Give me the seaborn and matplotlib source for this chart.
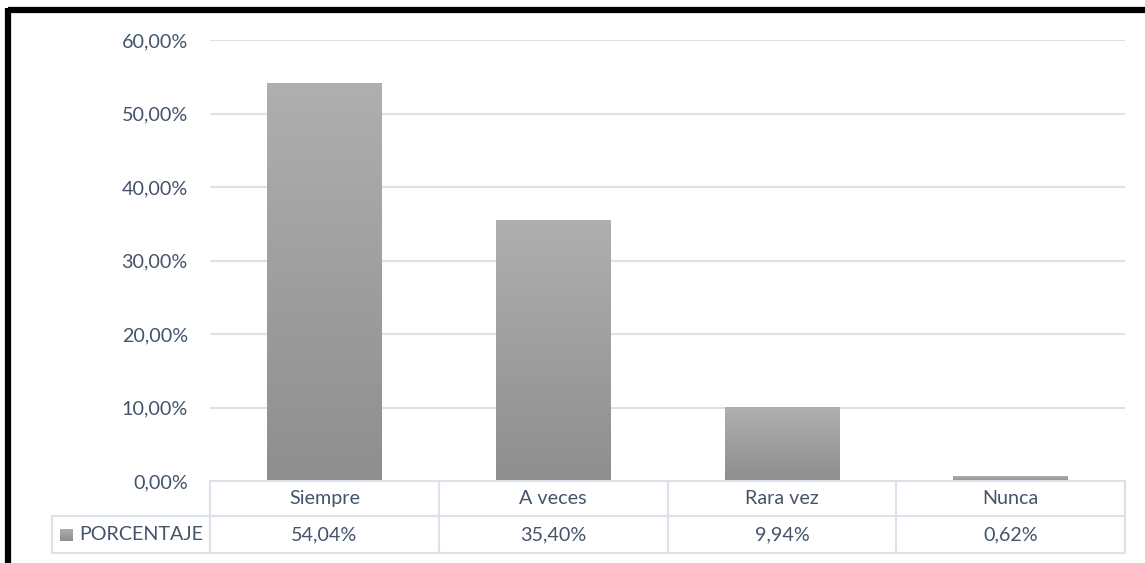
import numpy as np
import matplotlib
matplotlib.use("Agg")
import matplotlib.pyplot as plt
import seaborn as sns
from matplotlib.lines import Line2D

categories = ["Siempre", "A veces", "Rara vez", "Nunca"]
values = [0.5404, 0.3540, 0.0994, 0.0062]
series_name = "PORCENTAJE"
y_ticks = [0.0, 0.1, 0.2, 0.3, 0.4, 0.5, 0.6]


def pct(v):
    return f"{v * 100:.2f}%".replace(".", ",")


sns.set_theme(style="white")
plt.rcParams["font.family"] = ["Lato", "DejaVu Sans"]

TEXT = "#44546A"
GRID = "#DDE2EA"
FS = 14.2

W, H = 1145, 563
fig = plt.figure(figsize=(W / 100, H / 100), dpi=100)
fig.patch.set_facecolor("white")


def fx(px):
    return px / W


def fy(py):
    return 1 - py / H


left, right, top, bottom = 210, 1125, 40, 481
ax = fig.add_axes([fx(left), fy(bottom), fx(right) - fx(left), fy(top) - fy(bottom)])

sns.barplot(x=categories, y=values, color="#A0A0A0", width=0.5, ax=ax,
            saturation=1, zorder=3)

# vertical grey gradient in each bar
grad = np.linspace(0, 1, 256).reshape(-1, 1)
cmap = matplotlib.colors.LinearSegmentedColormap.from_list("bar", ["#8E8E8E", "#AFAFAF"])
for p in ax.patches:
    x0, y0 = p.get_x(), p.get_y()
    w, h = p.get_width(), p.get_height()
    p.set_facecolor("none")
    p.set_edgecolor("none")
    ax.imshow(grad, cmap=cmap, extent=[x0, x0 + w, y0, y0 + h],
              origin="lower", aspect="auto", zorder=3, interpolation="bilinear")
ax.set_xlim(-0.5, len(categories) - 0.5)
ax.set_ylim(0, 0.6)

ax.set_yticks(y_ticks)
ax.set_yticklabels([pct(v) for v in y_ticks], color=TEXT, fontsize=FS)
ax.tick_params(axis="y", length=0, pad=16)
ax.set_xticks([])
ax.set_xlabel("")
ax.set_ylabel("")
for s in ax.spines.values():
    s.set_visible(False)
for t in y_ticks[1:]:
    ax.axhline(t, color=GRID, lw=1.5, zorder=1)

# data table beneath the plot
row1, row2, row3 = 481, 516, 553
col_w = (right - left) / len(categories)
legend_left = 52
lw = 1.5
fig.add_artist(Line2D([fx(left), fx(right)], [fy(row1), fy(row1)], color=GRID, lw=lw))
fig.add_artist(Line2D([fx(legend_left), fx(right)], [fy(row2), fy(row2)], color=GRID, lw=lw))
fig.add_artist(Line2D([fx(legend_left), fx(right)], [fy(row3), fy(row3)], color=GRID, lw=lw))
fig.add_artist(Line2D([fx(legend_left), fx(legend_left)], [fy(row2), fy(row3)], color=GRID, lw=lw))
for i in range(len(categories) + 1):
    xx = left + i * col_w
    fig.add_artist(Line2D([fx(xx), fx(xx)], [fy(row1), fy(row3)], color=GRID, lw=lw))

for i, (c, v) in enumerate(zip(categories, values)):
    cx = left + (i + 0.5) * col_w
    fig.text(fx(cx), fy((row1 + row2) / 2), c, ha="center", va="center",
             color=TEXT, fontsize=FS)
    fig.text(fx(cx), fy((row2 + row3) / 2), pct(v), ha="center", va="center",
             color=TEXT, fontsize=FS)

# legend key in the table
kax = fig.add_axes([fx(60), fy(541), fx(73) - fx(60), fy(529) - fy(541)])
kax.imshow(grad, cmap=cmap, origin="lower", aspect="auto", extent=[0, 1, 0, 1])
kax.set_axis_off()
fig.text(fx(79), fy((row2 + row3) / 2), series_name, ha="left", va="center",
         color=TEXT, fontsize=FS)

# outer frame (top and left edges)
fig.add_artist(Line2D([fx(8), fx(W)], [fy(10), fy(10)], color="black", lw=4.5,
                      solid_capstyle="butt"))
fig.add_artist(Line2D([fx(8), fx(8)], [fy(8), fy(H)], color="black", lw=4.5,
                      solid_capstyle="butt"))

fig.savefig("out.png", dpi=100, facecolor="white")
